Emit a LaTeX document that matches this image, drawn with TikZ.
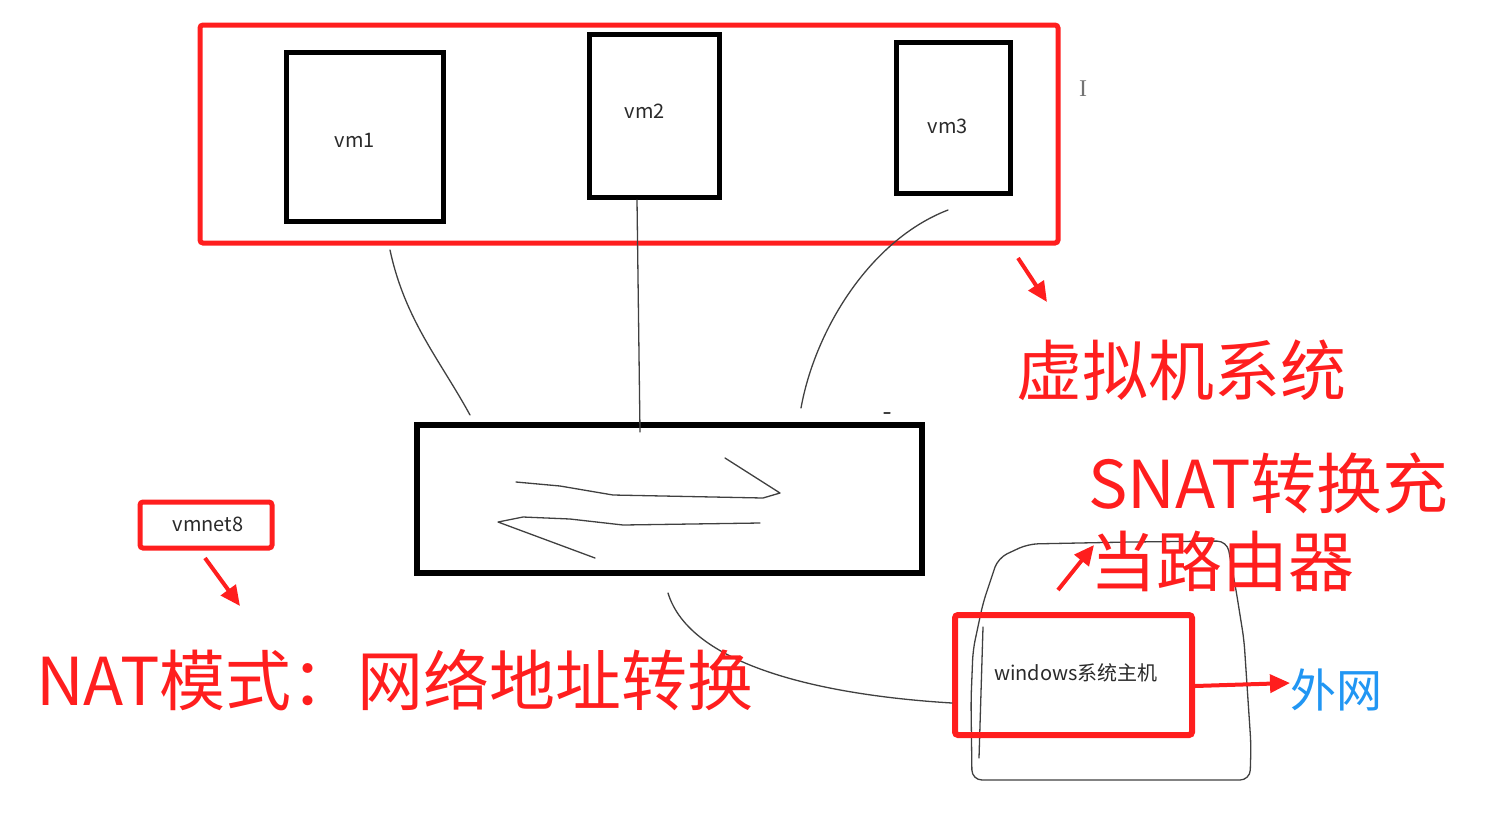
\documentclass[tikz,border=0pt]{standalone}
\usepackage{fontspec}
\setmainfont{Noto Sans CJK SC}
\newfontfamily\cursorfont{Liberation Serif}
\usetikzlibrary{arrows.meta}
\definecolor{myred}{HTML}{FF1E1E}
\definecolor{myblue}{HTML}{2196F3}
\definecolor{mytext}{HTML}{2A2A2A}
\tikzset{
  redframe/.style={draw=myred,line width=5pt,rounded corners=3pt},
  vmbox/.style={draw=black,line width=5pt,inner sep=0pt},
  sketch/.style={draw=black!75,line width=1.3pt,line cap=round,line join=round},
  redarrow/.style={draw=myred,line width=4pt,-{Triangle[length=20pt,width=18pt]}},
  small/.style={font=\fontsize{20}{24}\selectfont,text=mytext},
  big/.style={font=\fontsize{66}{72}\selectfont,text=myred,inner sep=0pt},
}
\begin{document}
\begin{tikzpicture}[x=1pt,y=-1pt]
\useasboundingbox (0,0) rectangle (1506,812);
% virtual machine system frame
\node[redframe,minimum width=858,minimum height=218] (sys) at (629,134) {};
\node[vmbox,minimum width=157,minimum height=169] (vm1) at (364.5,136.5) {};
\node[vmbox,minimum width=130,minimum height=163] (vm2) at (654,115.5) {};
\node[vmbox,minimum width=114,minimum height=151] (vm3) at (953,117.5) {};
\node[small] (t1) at (355,140) {vm1};
\node[small] (t2) at (645,111) {vm2};
\node[small] (t3) at (948,126) {vm3};
\node[text=black!55,font=\cursorfont\fontsize{24}{26}\selectfont] (cur) at (1083,89) {I};
% switch
\node[draw=black,line width=6pt,minimum width=505,minimum height=148] (sw) at (669.5,499) {};
\coordinate (a1) at (390,250);
\coordinate (a2) at (470,415);
\coordinate (b1) at (637,200);
\coordinate (b2) at (640,432);
\coordinate (c1) at (948,210);
\coordinate (c2) at (801,408);
\draw[sketch] (a1) .. controls (405,320) and (440,360) .. (a2);
\draw[sketch] (b1) -- (b2);
\draw[sketch] (c1) .. controls (870,240) and (815,330) .. (c2);
\draw[sketch] (884,413) -- (890,413);
% arrows inside switch
\draw[sketch] (516,482) -- (560,486) -- (613,495) -- (763,498) -- (780,493) -- (725,458);
\draw[sketch] (760,523) -- (623,525) -- (570,519) -- (523,517) -- (498,522) -- (595,558);
% windows host
\draw[sketch,rounded corners=10pt] (1130,542) -- (1227,541) -- (1236,590) -- (1244,640) -- (1251,745) -- (1250,780) -- (972,780) -- (971,700) -- (973,650) -- (983,603) -- (998,558) -- (1028,544) -- (1130,542);
\draw[sketch] (983,627) -- (979,758);
\node[redframe,line width=6pt,minimum width=237,minimum height=120] (win) at (1073.5,675) {};
\node[small] (wt) at (1076,673) {windows系统主机};
\coordinate (d1) at (668,593);
\draw[sketch] (d1) .. controls (690,665) and (820,695) .. (win.west |- 0,703);
% vmnet8
\node[redframe,minimum width=132,minimum height=46] (vmnet) at (206,525) {};
\node[small] (vt) at (208,524) {vmnet8};
% labels
\node[big,anchor=west] (L1) at (1016,370) {虚拟机系统};
\node[big,anchor=west] (L2) at (1088,483) {SNAT转换充};
\node[big,anchor=west] (L3) at (1090,561) {当路由器};
\node[big,anchor=west] (L4) at (36,680) {NAT模式：网络地址转换};
\node[big,anchor=west,text=myblue,font=\fontsize{46}{50}\selectfont] (wan) at (1290,690) {外网};
% red arrows
\coordinate (e1) at (1018,258);
\draw[redarrow] (e1) -- (1047,302);
\coordinate (e2) at (1058,590);
\draw[redarrow] (e2) -- (1094,545);
\coordinate (e3) at (205,558);
\draw[redarrow] (e3) -- (240,606);
\draw[redarrow] (win.east |- 0,686) -- (wan.west |- 0,683);
\end{tikzpicture}
\end{document}
